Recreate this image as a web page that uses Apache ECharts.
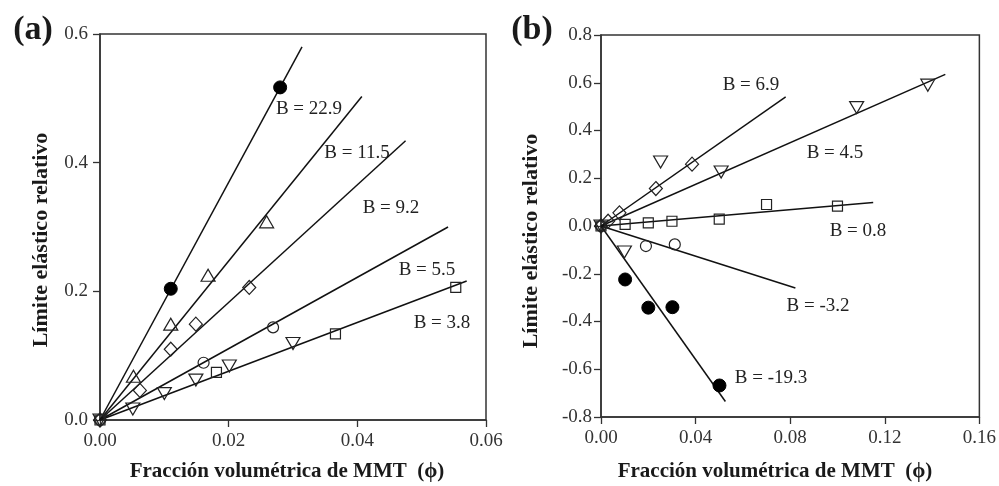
<!DOCTYPE html>
<html>
<head>
<meta charset="utf-8">
<script src="https://cdn.jsdelivr.net/npm/echarts@6/dist/echarts.min.js"></script>
<style>
  html, body { margin: 0; padding: 0; background: #fff; }
  #chart { width: 999px; height: 486px; }
</style>
</head>
<body>
<div id="chart"></div>
<script>
// panel (a) measured points [phi, relative yield]
const aFilled   = [[0.011, 0.204], [0.028, 0.517]];
const aTriUp    = [[0.0052, 0.068], [0.011, 0.149], [0.0168, 0.225], [0.0259, 0.308]];
const aDiamond  = [[0, 0], [0.0062, 0.046], [0.011, 0.110], [0.0149, 0.149], [0.0232, 0.206]];
const aCircle   = [[0, 0], [0.0161, 0.089], [0.0269, 0.144]];
const aTriDown  = [[0, 0], [0.0051, 0.017], [0.010, 0.041], [0.0149, 0.062], [0.0201, 0.084], [0.030, 0.119]];
const aSquare   = [[0, 0], [0.0181, 0.074], [0.0366, 0.134], [0.0553, 0.206]];
// fitted lines start at the origin, these are their far ends
const aFitEnds  = [[0.0314, 0.580], [0.0407, 0.503], [0.0475, 0.434], [0.0541, 0.300], [0.0570, 0.216]];
const aB        = ['22.9', '11.5', '9.2', '5.5', '3.8'];

// panel (b)
const bFilled   = [[0.0102, -0.224], [0.020, -0.342], [0.0302, -0.340], [0.0501, -0.668]];
const bCircle   = [[0, 0], [0.019, -0.084], [0.0312, -0.077]];
const bSquare   = [[0, 0], [0.0102, 0.007], [0.020, 0.013], [0.030, 0.020], [0.050, 0.029], [0.070, 0.090], [0.100, 0.083]];
const bTriDown  = [[0, 0], [0.0099, -0.109], [0.0252, 0.268], [0.0508, 0.226], [0.1081, 0.496], [0.1382, 0.590]];
const bDiamond  = [[0, 0], [0.003, 0.02], [0.0078, 0.055], [0.0232, 0.157], [0.0385, 0.259]];
const bFitEnds  = [[0.0781, 0.541], [0.1456, 0.635], [0.1151, 0.098], [0.0822, -0.260], [0.0526, -0.735]];
const bB        = ['6.9', '4.5', '0.8', '-3.2', '-19.3'];

const xTitle = 'Fracción volumétrica de MMT  (ϕ)';
const yTitle = 'Límite elástico relativo';

const serif = "'Liberation Serif', 'Times New Roman', serif";
const ink = '#222';

function fmt(d) {
    return function (v) { return (Math.abs(v) < 1e-9 ? 0 : v).toFixed(d); };
}

function axisBase(min, max, interval, digits, margin) {
    return {
        type: 'value', min: min, max: max, interval: interval,
        axisLine: { show: true, onZero: false, lineStyle: { color: '#333', width: 1.5 } },
        axisTick: { show: true, inside: false, length: 7, lineStyle: { color: '#333', width: 1.3 } },
        splitLine: { show: false },
        axisLabel: { formatter: fmt(digits), fontFamily: serif, fontSize: 19, color: '#333', margin: margin }
    };
}

function scatter(idx, data, symbol, opts) {
    return Object.assign({
        type: 'scatter', xAxisIndex: idx, yAxisIndex: idx, data: data,
        symbol: symbol, symbolSize: 12, z: 5,
        itemStyle: { color: 'rgba(0,0,0,0)', borderColor: ink, borderWidth: 1.2, opacity: 1 }
    }, opts || {});
}

function fits(idx, ends) {
    return ends.map(e => ({
        type: 'line', xAxisIndex: idx, yAxisIndex: idx,
        data: [[0, 0], e], symbol: 'none', silent: true, z: 3,
        lineStyle: { color: '#111', width: 1.5 }
    }));
}

const filled = { itemStyle: { color: '#000', borderColor: '#000', borderWidth: 1, opacity: 1 }, symbolSize: 13 };

function label(text, x, y) {
    return { type: 'text', x: x, y: y, style: { text: text, font: '19px ' + serif, fill: ink, align: 'center', verticalAlign: 'middle' } };
}

const chart = echarts.init(document.getElementById('chart'));
chart.setOption({
    animation: false,
    backgroundColor: '#fff',
    grid: [
        { left: 100, top: 34, width: 386, height: 386, show: true, borderColor: '#333', borderWidth: 1.5, backgroundColor: 'transparent' },
        { left: 601, top: 35, width: 381, height: 382, show: true, borderColor: '#333', borderWidth: 1.5, backgroundColor: 'transparent' }
    ],
    xAxis: [
        Object.assign(axisBase(0, 0.06, 0.02, 2, 12), { gridIndex: 0 }),
        Object.assign(axisBase(0, 0.16, 0.04, 2, 12), { gridIndex: 1 })
    ],
    yAxis: [
        Object.assign(axisBase(0, 0.6, 0.2, 1, 12), { gridIndex: 0 }),
        Object.assign(axisBase(-0.8, 0.8, 0.2, 1, 9), { gridIndex: 1 })
    ],
    series: [].concat(
        fits(0, aFitEnds),
        fits(1, bFitEnds),
        [
            scatter(0, aFilled, 'circle', filled),
            scatter(0, aTriUp, 'triangle', { symbolSize: [14, 12] }),
            scatter(0, aDiamond, 'diamond', { symbolSize: [13, 14] }),
            scatter(0, aCircle, 'circle', { symbolSize: 11 }),
            scatter(0, aTriDown, 'triangle', { symbolSize: [14, 12], symbolRotate: 180 }),
            scatter(0, aSquare, 'rect', { symbolSize: 10 }),
            scatter(1, bFilled, 'circle', filled),
            scatter(1, bCircle, 'circle', { symbolSize: 11 }),
            scatter(1, bSquare, 'rect', { symbolSize: 10 }),
            scatter(1, bTriDown, 'triangle', { symbolSize: [14, 12], symbolRotate: 180 }),
            scatter(1, bDiamond, 'diamond', { symbolSize: [13, 14] })
        ]
    ),
    graphic: [
        { type: 'text', x: 33, y: 30, style: { text: '(a)', font: 'bold 34px ' + serif, fill: '#1a1a1a', align: 'center', verticalAlign: 'middle' } },
        { type: 'text', x: 532, y: 30, style: { text: '(b)', font: 'bold 34px ' + serif, fill: '#1a1a1a', align: 'center', verticalAlign: 'middle' } },
        { type: 'text', x: 287, y: 472, style: { text: xTitle, font: 'bold 21px ' + serif, fill: '#1a1a1a', align: 'center', verticalAlign: 'middle' } },
        { type: 'text', x: 775, y: 472, style: { text: xTitle, font: 'bold 21px ' + serif, fill: '#1a1a1a', align: 'center', verticalAlign: 'middle' } },
        { type: 'text', x: 41, y: 240, rotation: Math.PI / 2, style: { text: yTitle, font: 'bold 22px ' + serif, fill: '#1a1a1a', align: 'center', verticalAlign: 'middle' } },
        { type: 'text', x: 531, y: 241, rotation: Math.PI / 2, style: { text: yTitle, font: 'bold 22px ' + serif, fill: '#1a1a1a', align: 'center', verticalAlign: 'middle' } },
        label('B = ' + aB[0], 309, 109),
        label('B = ' + aB[1], 357, 153),
        label('B = ' + aB[2], 391, 208),
        label('B = ' + aB[3], 427, 270),
        label('B = ' + aB[4], 442, 323),
        label('B = ' + bB[0], 751, 85),
        label('B = ' + bB[1], 835, 153),
        label('B = ' + bB[2], 858, 231),
        label('B = ' + bB[3], 818, 306),
        label('B = ' + bB[4], 771, 378)
    ]
});
</script>
</body>
</html>
